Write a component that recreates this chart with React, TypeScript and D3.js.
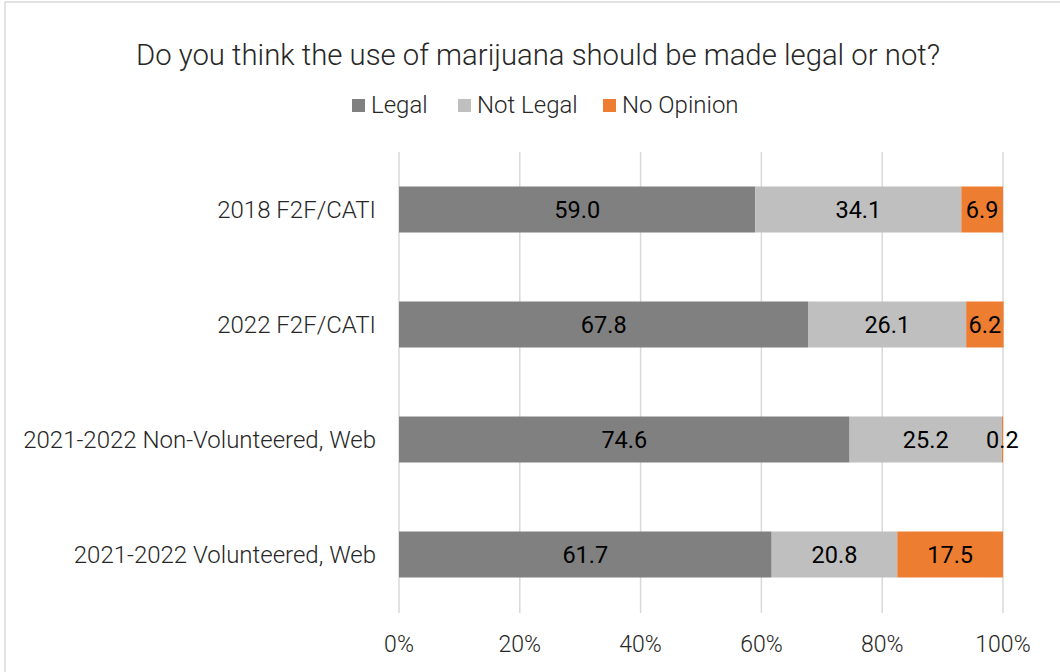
import React from "react";
import * as d3 from "d3";

const categories = [
  "2018 F2F/CATI",
  "2022 F2F/CATI",
  "2021-2022 Non-Volunteered, Web",
  "2021-2022 Volunteered, Web",
];
const seriesNames = ["Legal", "Not Legal", "No Opinion"];
const legalValues = [59.0, 67.8, 74.6, 61.7];
const notLegalValues = [34.1, 26.1, 25.2, 20.8];
const noOpinionValues = [6.9, 6.2, 0.2, 17.5];
const xTicks = [0, 20, 40, 60, 80, 100];
const colors = ["#808080", "#bfbfbf", "#ed7d31"];

const W = 1060;
const H = 672;
const left = 399;
const right = 1003;
const top = 152;
const bottom = 612;
const FONT = "Roboto, 'Noto Sans', sans-serif";

export default function App() {
  const x = d3.scaleLinear().domain([0, 100]).range([left, right]);
  const y = d3
    .scaleBand<string>()
    .domain(categories)
    .range([top, bottom])
    .paddingInner(0.6)
    .paddingOuter(0.3);

  const rows = categories.map((c, i) => ({
    cat: c,
    Legal: legalValues[i],
    "Not Legal": notLegalValues[i],
    "No Opinion": noOpinionValues[i],
  }));
  const stacked = d3.stack<any>().keys(seriesNames)(rows);

  const legendItems = [
    { name: "Legal", x: 352 },
    { name: "Not Legal", x: 458 },
    { name: "No Opinion", x: 603 },
  ];

  return (
    <div style={{ position: "absolute", left: 0, top: 0 }}>
      <svg width={W} height={H} style={{ display: "block", fontFamily: FONT }}>
        <rect x={0} y={0} width={W} height={H} fill="#ffffff" />
        <rect x={5} y={2} width={W + 20} height={H + 20} fill="none" stroke="#d9d9d9" strokeWidth={1.5} />
        <text
          x={538}
          y={65}
          textAnchor="middle"
          fontSize={29.3}
          fontWeight={300}
          fill="#262626"
        >
          Do you think the use of marijuana should be made legal or not?
        </text>
        {legendItems.map((l, i) => (
          <g key={l.name}>
            <rect x={l.x} y={99} width={13} height={13} fill={colors[i]} />
            <text x={l.x + 19} y={113} fontSize={24} fontWeight={300} fill="#262626">
              {l.name}
            </text>
          </g>
        ))}
        {xTicks.map((t) => (
          <g key={t}>
            <line
              x1={x(t)}
              x2={x(t)}
              y1={top}
              y2={bottom + 1}
              stroke="#d9d9d9"
              strokeWidth={1.5}
            />
            <text
              x={x(t)}
              y={652}
              textAnchor="middle"
              fontSize={23}
              fontWeight={300}
              fill="#262626"
            >
              {t}%
            </text>
          </g>
        ))}
        {categories.map((c) => (
          <text
            key={c}
            x={376}
            y={(y(c) as number) + y.bandwidth() / 2 + 8}
            textAnchor="end"
            fontSize={24}
            fontWeight={300}
            fill="#262626"
          >
            {c}
          </text>
        ))}
        {stacked.map((s, si) => (
          <g key={s.key}>
            {s.map((d, i) => (
              <rect
                key={i}
                x={x(d[0])}
                y={y(categories[i])}
                width={x(d[1]) - x(d[0])}
                height={y.bandwidth()}
                fill={colors[si]}
              />
            ))}
          </g>
        ))}
        {stacked.map((s) => (
          <g key={s.key + "l"}>
            {s.map((d, i) => (
              <text
                key={i}
                x={(x(d[0]) + x(d[1])) / 2}
                y={(y(categories[i]) as number) + y.bandwidth() / 2 + 8.5}
                textAnchor="middle"
                fontSize={23.5}
                fill="#000000"
              >
                {(d[1] - d[0]).toFixed(1)}
              </text>
            ))}
          </g>
        ))}
      </svg>
    </div>
  );
}
